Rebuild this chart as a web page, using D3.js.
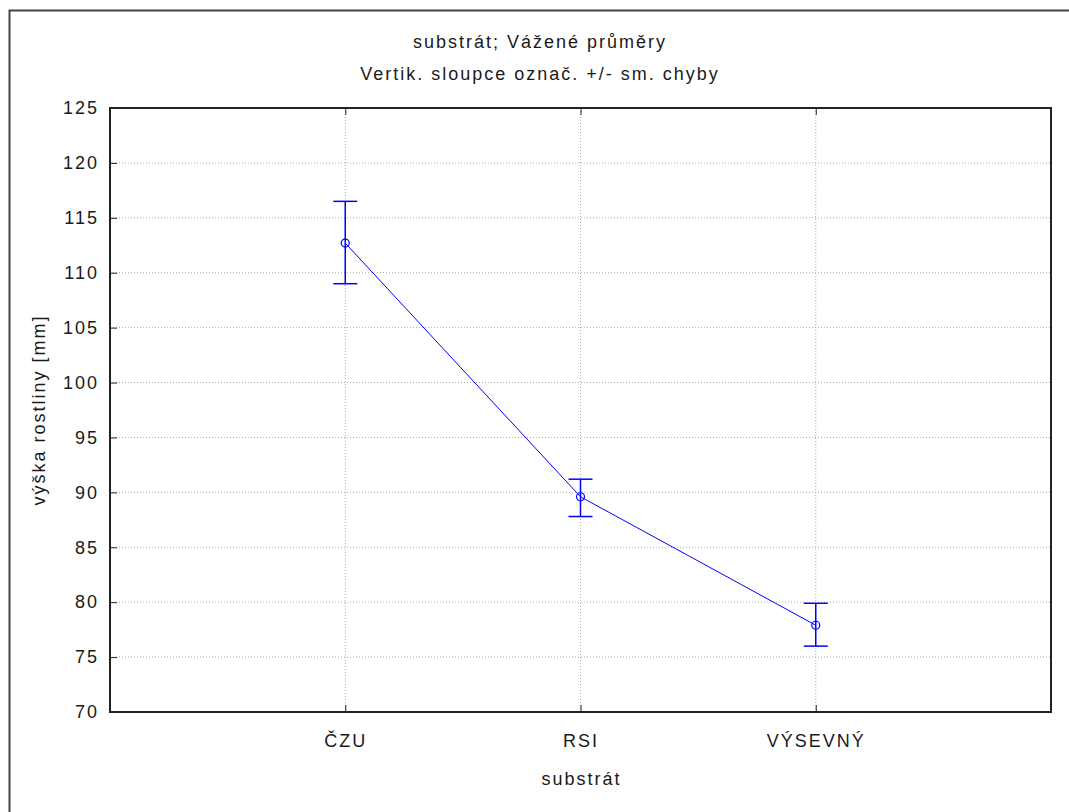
<!DOCTYPE html>
<html>
<head>
<meta charset="utf-8">
<script src="https://cdn.jsdelivr.net/npm/d3@7"></script>
<style>
  body { margin: 0; background: #fff; }
  text { font-family: "Liberation Sans", Arial, sans-serif; fill: #1a1a1a; font-size: 18px; letter-spacing: 2px; }
</style>
</head>
<body>
<div id="chart"></div>
<script>
// data
const categories = ["ČZU", "RSI", "VÝSEVNÝ"];
const means = [112.7, 89.6, 77.9];
const upper = [116.5, 91.2, 79.9];
const lower = [109.0, 87.8, 76.0];
const yTicks = [70, 75, 80, 85, 90, 95, 100, 105, 110, 115, 120, 125];

const width = 1069, height = 812;
const margin = { top: 108, right: 18, bottom: 100, left: 110 };
const chartWidth = width - margin.left - margin.right;
const chartHeight = height - margin.top - margin.bottom;

const svg = d3.select("#chart").append("svg")
  .attr("width", width)
  .attr("height", height);

// outer frame (only left/top visible)
svg.append("path")
  .attr("d", `M9.5,${height} V10.5 H${width}`)
  .attr("fill", "none")
  .attr("stroke", "#444")
  .attr("stroke-width", 2);

const g = svg.append("g")
  .attr("transform", `translate(${margin.left},${margin.top})`);

const x = d3.scalePoint()
  .domain(categories)
  .range([0, chartWidth])
  .padding(1);

const y = d3.scaleLinear()
  .domain([70, 125])
  .range([chartHeight, 0]);

// grid
g.selectAll(".hgrid")
  .data(yTicks.filter(t => t > 70 && t < 125))
  .enter().append("line")
  .attr("x1", 0).attr("x2", chartWidth)
  .attr("y1", d => y(d)).attr("y2", d => y(d))
  .attr("stroke", "#aaa")
  .attr("stroke-dasharray", "1,2");

g.selectAll(".vgrid")
  .data(categories)
  .enter().append("line")
  .attr("x1", d => x(d)).attr("x2", d => x(d))
  .attr("y1", 0).attr("y2", chartHeight)
  .attr("stroke", "#aaa")
  .attr("stroke-dasharray", "1,2");

// axes
const yAxis = g.append("g")
  .call(d3.axisLeft(y).tickValues(yTicks).tickSizeInner(-7).tickSizeOuter(0).tickPadding(11));
yAxis.select(".domain").remove();
yAxis.selectAll("line").attr("stroke", "#222");
yAxis.selectAll("text").attr("font-size", null).attr("font-family", null).attr("fill", "#1a1a1a");

const xAxis = g.append("g")
  .attr("transform", `translate(0,${chartHeight})`)
  .call(d3.axisBottom(x).tickSizeInner(-7).tickSizeOuter(0).tickPadding(22));
xAxis.select(".domain").remove();
xAxis.selectAll("line").attr("stroke", "#222");
xAxis.selectAll("text").attr("font-size", null).attr("font-family", null).attr("fill", "#1a1a1a");

const xTop = g.append("g")
  .call(d3.axisTop(x).tickSizeInner(-7).tickSizeOuter(0).tickFormat(""));
xTop.select(".domain").remove();
xTop.selectAll("line").attr("stroke", "#222");

// plot frame
g.append("rect")
  .attr("width", chartWidth)
  .attr("height", chartHeight)
  .attr("fill", "none")
  .attr("stroke", "#222")
  .attr("stroke-width", 2);

// line
const pts = categories.map((c, i) => ({ c, m: means[i], hi: upper[i], lo: lower[i] }));
g.append("path")
  .datum(pts)
  .attr("fill", "none")
  .attr("stroke", "#0000ff")
  .attr("stroke-width", 1)
  .attr("d", d3.line().x(d => x(d.c)).y(d => y(d.m)));

// error bars
const eb = g.selectAll(".err").data(pts).enter().append("g");
eb.append("line")
  .attr("x1", d => x(d.c)).attr("x2", d => x(d.c))
  .attr("y1", d => y(d.hi)).attr("y2", d => y(d.lo))
  .attr("stroke", "#0000ff").attr("stroke-width", 1.5);
[d => d.hi, d => d.lo].forEach(f => {
  eb.append("line")
    .attr("x1", d => x(d.c) - 12).attr("x2", d => x(d.c) + 12)
    .attr("y1", d => y(f(d))).attr("y2", d => y(f(d)))
    .attr("stroke", "#0000ff").attr("stroke-width", 1.5);
});
eb.append("circle")
  .attr("cx", d => x(d.c)).attr("cy", d => y(d.m))
  .attr("r", 4)
  .attr("fill", "none")
  .attr("stroke", "#0000ff")
  .attr("stroke-width", 1.2);

// titles
svg.append("text")
  .attr("x", 540).attr("y", 48)
  .attr("text-anchor", "middle")
  .text("substrát; Vážené průměry");
svg.append("text")
  .attr("x", 540).attr("y", 80)
  .attr("text-anchor", "middle")
  .text("Vertik. sloupce označ. +/- sm. chyby");

svg.append("text")
  .attr("x", margin.left + chartWidth / 2 + 1).attr("y", 785)
  .attr("text-anchor", "middle")
  .text("substrát");

svg.append("text")
  .attr("transform", `translate(45,${margin.top + chartHeight / 2}) rotate(-90)`)
  .attr("text-anchor", "middle")
  .text("výška rostliny [mm]");
</script>
</body>
</html>
